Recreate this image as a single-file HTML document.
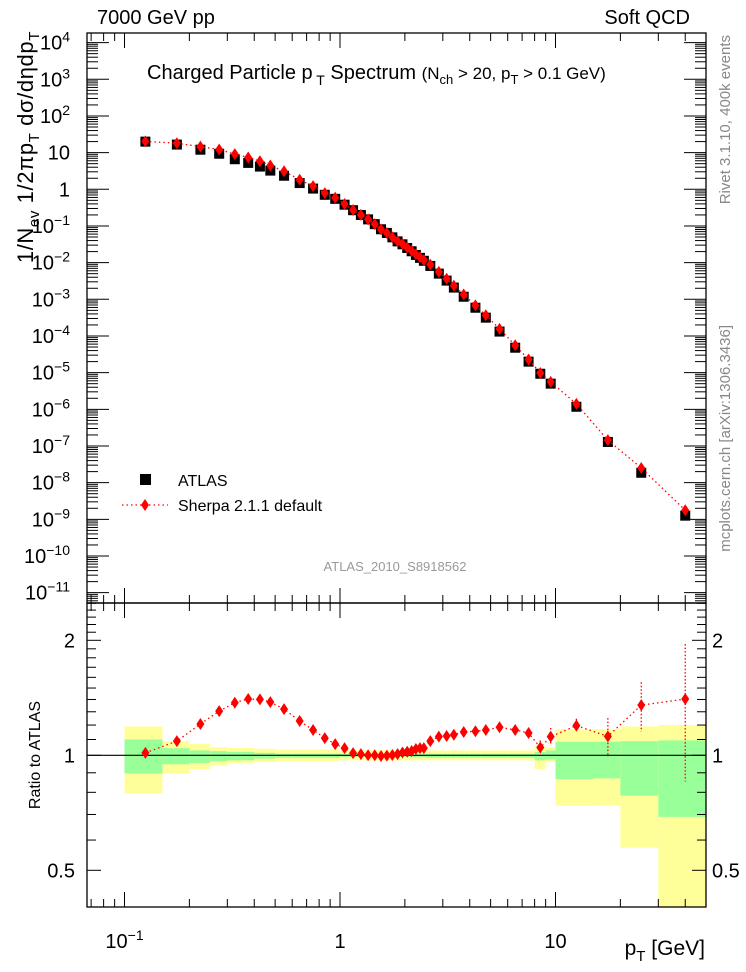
<!DOCTYPE html>
<html><head><meta charset="utf-8"><style>
body{margin:0;background:#fff;width:746px;height:972px;overflow:hidden}
svg{display:block;font-family:"Liberation Sans",sans-serif}
</style></head><body>
<svg id="c" width="746" height="972" xmlns="http://www.w3.org/2000/svg"></svg>
<script>
const pts = [0.125,0.175,0.225,0.275,0.325,0.375,0.425,0.475,0.55,0.65,0.75,0.85,0.95,1.05,1.15,1.25,1.35,1.45,1.55,1.65,1.75,1.85,1.95,2.05,2.15,2.25,2.35,2.45,2.625,2.875,3.125,3.375,3.75,4.25,4.75,5.5,6.5,7.5,8.5,9.5,12.5,17.5,25,40];
const binEdges = [0.1,0.15,0.2,0.25,0.3,0.35,0.4,0.45,0.5,0.6,0.7,0.8,0.9,1.0,1.1,1.2,1.3,1.4,1.5,1.6,1.7,1.8,1.9,2.0,2.1,2.2,2.3,2.4,2.5,2.75,3.0,3.25,3.5,4,4.5,5,6,7,8,9,10,15,20,30,50];
const atlasLog = [1.30,1.22,1.08,0.97,0.82,0.72,0.62,0.51,0.37,0.17,0.02,-0.15,-0.26,-0.42,-0.57,-0.70,-0.82,-0.95,-1.09,-1.19,-1.31,-1.42,-1.50,-1.60,-1.69,-1.79,-1.87,-1.95,-2.09,-2.30,-2.49,-2.68,-2.93,-3.23,-3.50,-3.88,-4.32,-4.70,-5.03,-5.30,-5.93,-6.89,-7.73,-8.90];
const ratio = [1.015,1.089,1.208,1.305,1.373,1.404,1.401,1.378,1.321,1.230,1.165,1.109,1.070,1.044,1.013,1.007,1.0,1.0,0.996,0.998,1.002,1.007,1.017,1.022,1.026,1.039,1.044,1.044,1.089,1.119,1.123,1.132,1.151,1.156,1.165,1.184,1.165,1.144,1.048,1.119,1.196,1.121,1.353,1.404];
const ratioErr = [0,0,0,0,0,0,0,0,0,0,0,0,0,0,0,0,0,0,0,0,0,0,0,0,0,0,0,0,0,0,0,0,0,0,0,0,0,0.015,0.045,0.06,0.05,0.13,0.2,0.55];
const greenUp = [1.1,1.044,1.03,1.025,1.02,1.02,1.015,1.015,1.01,1.01,1.01,1.01,1.01,1.008,1.008,1.008,1.008,1.008,1.008,1.008,1.008,1.008,1.008,1.008,1.008,1.008,1.008,1.008,1.01,1.01,1.01,1.01,1.01,1.01,1.01,1.01,1.01,1.01,1.02,1.03,1.085,1.085,1.089,1.094];
const greenDn = [0.897,0.947,0.955,0.965,0.97,0.97,0.98,0.98,0.985,0.985,0.985,0.985,0.985,0.99,0.99,0.99,0.99,0.99,0.99,0.99,0.99,0.99,0.99,0.99,0.99,0.99,0.99,0.99,0.985,0.985,0.985,0.985,0.985,0.985,0.985,0.985,0.985,0.985,0.97,0.975,0.866,0.87,0.784,0.69];
const yellowUp = [1.19,1.089,1.07,1.05,1.045,1.045,1.04,1.04,1.035,1.035,1.035,1.035,1.035,1.03,1.03,1.03,1.03,1.03,1.03,1.03,1.03,1.03,1.03,1.03,1.03,1.03,1.03,1.03,1.03,1.03,1.03,1.03,1.03,1.03,1.03,1.03,1.03,1.03,1.06,1.05,1.17,1.17,1.19,1.2];
const yellowDn = [0.795,0.897,0.92,0.94,0.955,0.955,0.96,0.96,0.965,0.965,0.965,0.965,0.965,0.97,0.97,0.97,0.97,0.97,0.97,0.97,0.97,0.97,0.97,0.97,0.97,0.97,0.97,0.97,0.97,0.97,0.97,0.97,0.97,0.97,0.97,0.97,0.97,0.97,0.92,0.96,0.738,0.74,0.573,0.3];
const mainTickExp = [4,3,2,1,0,-1,-2,-3,-4,-5,-6,-7,-8,-9,-10,-11];
const ratioTicks = [2,1,0.5];

const L=87,R=706,T=33,MB=603,RB=907;
const X=v=>340+215.5*Math.log10(v);
const Ym=lg=>189.3-36.67*lg;
const Yr=v=>755.3-382*Math.log10(v);
const svg=document.getElementById('c');
const NS='http://www.w3.org/2000/svg';
function mk(tag,at,txt){const e=document.createElementNS(NS,tag);for(const k in at)e.setAttribute(k,at[k]);if(txt!==undefined)e.textContent=txt;svg.appendChild(e);return e;}

for(let i=0;i<pts.length;i++){
  const x0=X(binEdges[i]),x1=X(binEdges[i+1]);
  const yt=Yr(yellowUp[i]),yb=Math.min(Yr(yellowDn[i]),RB);
  let e=mk('rect',{x:x0,y:yt,width:x1-x0,height:yb-yt,fill:'#ffff99'});
  
  
  const gt=Yr(greenUp[i]),gb=Yr(greenDn[i]);
  e=mk('rect',{x:x0,y:gt,width:x1-x0,height:gb-gt,fill:'#99ff99'});
  
  
}
let ln=mk('line',{x1:L,x2:R,y1:Yr(1),y2:Yr(1),stroke:'#000','stroke-width':1.2});



let f=mk('rect',{x:L,y:T,width:R-L,height:MB-T,fill:'none',stroke:'#000','stroke-width':1.3});


f=mk('rect',{x:L,y:MB,width:R-L,height:RB-MB,fill:'none',stroke:'#000','stroke-width':1.3});



for(let d=-2;d<=1;d++){for(let m=1;m<=9;m++){const v=m*Math.pow(10,d);const x=X(v);if(x<L||x>R)continue;const len=m===1?15:8;
  for(const [y0,dir] of [[T,1],[MB,-1],[MB,1],[RB,-1]]){const t=mk('line',{x1:x,x2:x,y1:y0,y2:y0+dir*len,stroke:'#000','stroke-width':1});}}}
for(let e=-12;e<=4;e++){for(let m=1;m<=9;m++){const lg=e+Math.log10(m);const y=Ym(lg);if(y<T||y>MB)continue;const len=m===1?22:11;
  for(const [x0,dir] of [[L,1],[R,-1]]){const t=mk('line',{x1:x0,x2:x0+dir*len,y1:y,y2:y,stroke:'#000','stroke-width':1});}}}
for(let v=0.4;v<=2.5001;v+=0.1){const y=Yr(v);if(y<MB||y>RB)continue;const maj=Math.abs(v-0.5)<1e-6||Math.abs(v-1)<1e-6||Math.abs(v-2)<1e-6;const len=maj?14:9;
  for(const [x0,dir] of [[L,1],[R,-1]]){const t=mk('line',{x1:x0,x2:x0+dir*len,y1:y,y2:y,stroke:'#000','stroke-width':1});}}

mainTickExp.forEach(e=>{const t=mk('text',{x:70,y:Ym(e)+7,'text-anchor':'end','font-size':20});
  
  if(e===0) t.textContent='1';
  else if(e===1) t.textContent='10';
  else if(e<0) t.innerHTML='10<tspan dy="-8" font-size="14">\u2212'+(-e)+'</tspan>';
  else t.innerHTML='10<tspan dy="-8" font-size="14">'+e+'</tspan>';});
ratioTicks.forEach(v=>{for(const [x,a] of [[75,'end'],[712,'start']]){const t=mk('text',{x:x,y:Yr(v)+7,'text-anchor':a,'font-size':20},String(v));}});
[[0.1,'10<tspan dy="-8" font-size="14">\u22121</tspan>'],[1,'1'],[10,'10']].forEach(([v,h])=>{const t=mk('text',{x:X(v),y:948,'text-anchor':'middle','font-size':20});t.innerHTML=h;});

pts.forEach((p,i)=>{const r=mk('rect',{x:X(p)-5,y:Ym(atlasLog[i])-5,width:10,height:10,fill:'#000'});});
const sLog=pts.map((p,i)=>atlasLog[i]+Math.log10(ratio[i]));
let pl=mk('polyline',{points:pts.map((p,i)=>X(p)+','+Ym(sLog[i])).join(' '),fill:'none',stroke:'#f00','stroke-width':1.3,'stroke-dasharray':'1.5,3'});

function diamond(x,y,name){const d=mk('path',{d:`M${x},${y-6}L${x+4},${y}L${x},${y+6}L${x-4},${y}Z`,fill:'#f00'});}
pts.forEach((p,i)=>diamond(X(p),Ym(sLog[i]),'sherpa-point'));
pl=mk('polyline',{points:pts.map((p,i)=>X(p)+','+Yr(ratio[i])).join(' '),fill:'none',stroke:'#f00','stroke-width':1.3,'stroke-dasharray':'1.5,3'});

pts.forEach((p,i)=>{if(ratioErr[i]>0){const y1=Math.max(Yr(ratio[i]+ratioErr[i]),MB),y2=Yr(ratio[i]-ratioErr[i]);const e=mk('line',{x1:X(p),x2:X(p),y1:y1,y2:y2,stroke:'#f00','stroke-width':1.3,'stroke-dasharray':'1.5,2'});}
  diamond(X(p),Yr(ratio[i]),'ratio-point');});

function txt(a,s,name,html){const t=mk('text',a);if(html)t.innerHTML=s;else t.textContent=s;return t;}
txt({x:97,y:24,'font-size':20},'7000 GeV pp','energy-label');
txt({x:690,y:24,'font-size':20,'text-anchor':'end'},'Soft QCD','process-label');
txt({x:147,y:79,'font-size':20},'Charged Particle p<tspan dy="6" font-size="14"> T</tspan><tspan dy="-6"> Spectrum   </tspan><tspan font-size="17">(N</tspan><tspan dy="5" font-size="13">ch</tspan><tspan dy="-5" font-size="17"> &gt; 20, p</tspan><tspan dy="5" font-size="13">T</tspan><tspan dy="-5" font-size="17"> &gt; 0.1 GeV)</tspan>','plot-title',true);
txt({x:0,y:0,'font-size':22,'text-anchor':'end','letter-spacing':'0.6',transform:'translate(33,31) rotate(-90)'},'1/N<tspan dy="6" font-size="15">ev</tspan><tspan dy="-6">  1/2\u03C0p</tspan><tspan dy="6" font-size="15">T</tspan><tspan dy="-6">  d\u03C3/d\u03B7dp</tspan><tspan dy="6" font-size="15">T</tspan>','y-axis-title',true);
txt({x:0,y:0,'font-size':16,'text-anchor':'middle',transform:'translate(40,755) rotate(-90)'},'Ratio to ATLAS','ratio-axis-title');
txt({x:705,y:955,'font-size':21,'text-anchor':'end'},'p<tspan dy="6" font-size="15">T</tspan><tspan dy="-6">   [GeV]</tspan>','x-axis-title',true);
txt({x:0,y:0,'font-size':15,fill:'#888','text-anchor':'end',transform:'translate(730,35) rotate(-90)'},'Rivet 3.1.10,  400k events','rivet-label');
txt({x:0,y:0,'font-size':15,fill:'#888','text-anchor':'end',transform:'translate(730,325) rotate(-90)'},'mcplots.cern.ch [arXiv:1306.3436]','mcplots-label');
txt({x:395,y:571,'font-size':13,fill:'#999','text-anchor':'middle'},'ATLAS_2010_S8918562','analysis-id');
let lg=mk('rect',{x:140,y:474,width:11,height:11,fill:'#000'});
txt({x:178,y:486,'font-size':16},'ATLAS','legend-atlas-label');
lg=mk('line',{x1:122,x2:168,y1:505,y2:505,stroke:'#f00','stroke-width':1.3,'stroke-dasharray':'1.5,3'});
diamond(145,505,'legend-sherpa-marker');
txt({x:178,y:511,'font-size':16},'Sherpa 2.1.1 default','legend-sherpa-label');
</script>
</body></html>
